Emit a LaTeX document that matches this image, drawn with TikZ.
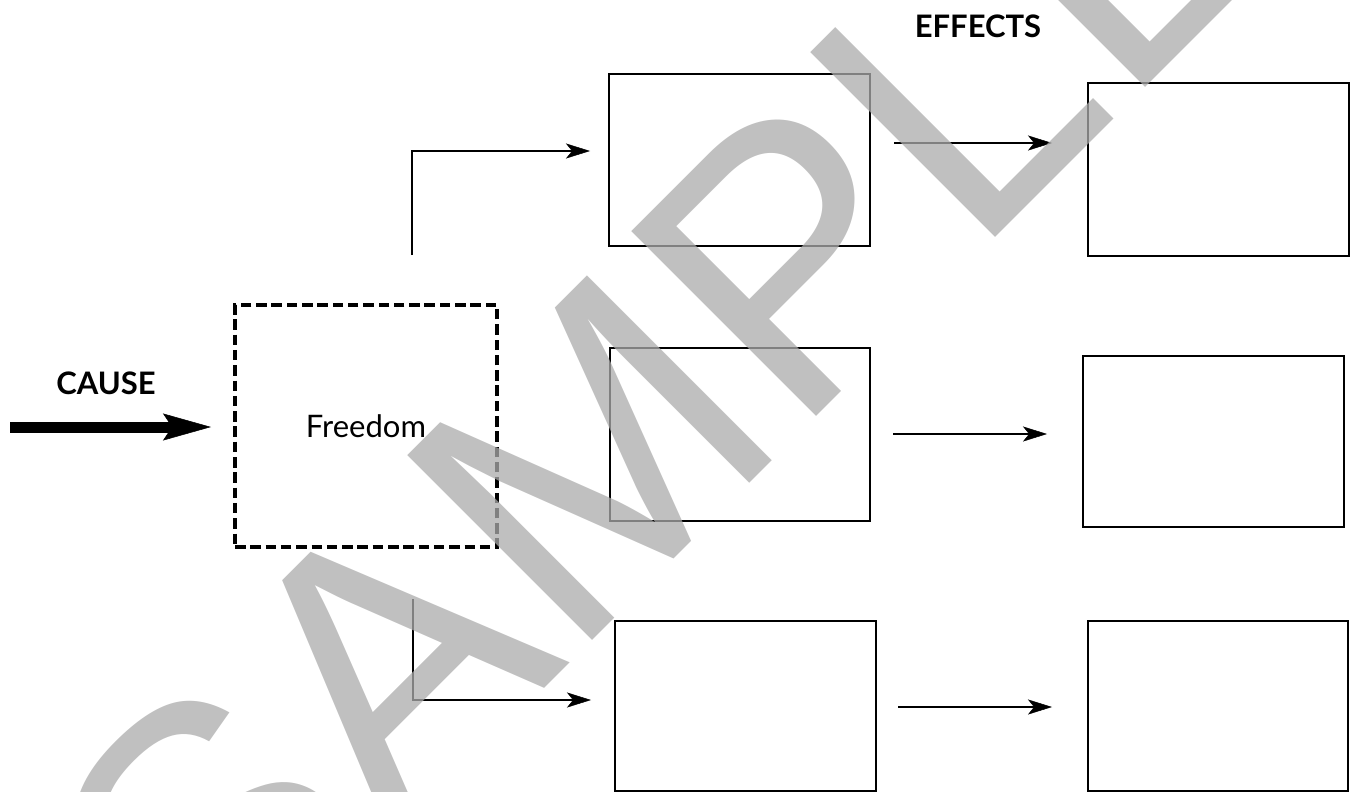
\documentclass[tikz,border=0pt]{standalone}
\usepackage{fontspec}
\setmainfont{Lato}
\newfontfamily\wmfont{Liberation Sans}
\usetikzlibrary{arrows.meta}
\definecolor{wmgray}{RGB}{171,171,171}
\begin{document}
\begin{tikzpicture}[x=1pt,y=-1pt,
  box/.style={draw,line width=2.8pt,inner sep=0pt,rectangle},
  dbox/.style={draw,line width=3.2pt,inner sep=0pt,rectangle,dash pattern=on 10.5pt off 4.8pt,
    minimum width=262pt,minimum height=242pt,font=\fontsize{31}{36}\selectfont},
  conn/.style={line width=2.4pt,-{Stealth[length=24pt,width=15pt,inset=6pt,line width=0.5pt]}},
  bigarrow/.style={line width=11pt,-{Stealth[length=48pt,width=27pt,inset=9pt,line width=0.5pt]}},
  head/.style={font=\bfseries\fontsize{31}{36}\selectfont,inner sep=0pt},
  wm/.style={rotate=45,anchor=base west,text=wmgray,text opacity=0.75,inner sep=0pt,
    font=\wmfont\fontsize{380}{380}\selectfont}]
\useasboundingbox (0,0) rectangle (1354,792);
\clip (0,0) rectangle (1354,792);

% labels
\node[head] (cause) at (106,383) {CAUSE};
\node[head] (effects) at (978,26) {EFFECTS};

% cause box
\node[dbox] (free) at (366,426) {Freedom};

% effect boxes
\node[box,minimum width=261pt,minimum height=172pt] (t1) at (739.5,160) {};
\node[box,minimum width=261pt,minimum height=173pt] (t2) at (1218.5,169.5) {};
\node[box,minimum width=260pt,minimum height=173pt] (m1) at (740,434.5) {};
\node[box,minimum width=261pt,minimum height=171pt] (m2) at (1213.5,441.5) {};
\node[box,minimum width=261pt,minimum height=170pt] (b1) at (745.5,706) {};
\node[box,minimum width=260pt,minimum height=170pt] (b2) at (1218,706) {};

% connector ends
\coordinate (cs) at (10,427);
\coordinate (ce) at (211,427);
\coordinate (ts) at (412,255);
\coordinate (te) at (590,151);
\coordinate (bs) at (413,599);
\coordinate (be) at (591,700);
\coordinate (r1s) at (894,143);
\coordinate (r1e) at (1052,143);
\coordinate (r2s) at (893,434);
\coordinate (r2e) at (1047,434);
\coordinate (r3s) at (898,707);
\coordinate (r3e) at (1052,707);

% connectors
\draw[bigarrow] (cs) -- (ce);
\draw[conn] (ts) |- (te);
\draw[conn] (bs) |- (be);
\draw[conn] (r1s) -- (r1e);
\draw[conn] (r2s) -- (r2e);
\draw[conn] (r3s) -- (r3e);

% watermark
\node[wm] (mark) at (212,1021) {SAMPLE};
\end{tikzpicture}
\end{document}
